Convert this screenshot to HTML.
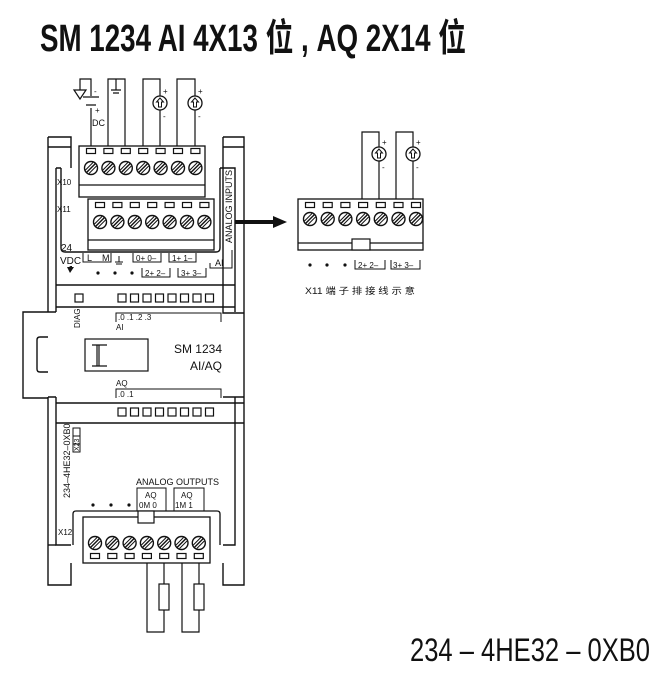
<!DOCTYPE html>
<html><head><meta charset="utf-8"><style>
html,body{margin:0;padding:0;background:#fff;}
svg{display:block;}
text{font-family:"Liberation Sans","Noto Sans CJK SC",sans-serif;fill:#111;}
</style></head><body>
<svg width="667" height="676" viewBox="0 0 667 676" xmlns="http://www.w3.org/2000/svg">
<defs>
<g id="scr"><circle r="6.5" fill="#fff" stroke="#111" stroke-width="1.4"/><line x1="-4.5" y1="4.5" x2="4.5" y2="-4.5" stroke="#111" stroke-width="1.4"/><line x1="-2" y1="5.5" x2="5.5" y2="-2" stroke="#111" stroke-width="1"/><line x1="-5.5" y1="2" x2="2" y2="-5.5" stroke="#111" stroke-width="1"/></g>
<rect id="tab" x="-4.5" y="-2.5" width="9" height="5" fill="#fff" stroke="#111" stroke-width="1.2"/>
<rect id="led" width="8" height="8" fill="#fff" stroke="#111" stroke-width="1.2"/>
<g id="src"><circle r="7" fill="#fff" stroke="#111" stroke-width="1.3"/><path d="M0,-5 L-3.5,-1 L-1.5,-1 L-1.5,4 L1.5,4 L1.5,-1 L3.5,-1 Z" fill="none" stroke="#111" stroke-width="1"/><text x="3" y="-9" font-size="8">+</text><text x="3" y="16" font-size="8">-</text></g>
</defs>

<text x="40" y="51" font-size="38" font-weight="bold" textLength="426" lengthAdjust="spacingAndGlyphs">SM 1234 AI 4X13 位 , AQ 2X14 位</text>
<text x="410" y="661" font-size="32" textLength="240" lengthAdjust="spacingAndGlyphs">234 – 4HE32 – 0XB0</text>

<g fill="none" stroke="#111" stroke-width="1.4">
<path d="M48,137 H71 V168"/>
<path d="M48,137 V312 M48,397 V585 H71 V563"/>
<path d="M48,147 H71"/>
<path d="M223,137 H244 V585 H223 V563"/>
<path d="M223,147 H244"/>
<path d="M223,137 V313 H244 M223,397 H244 M235,397 V545 H223"/>
<path d="M56,168 V312 M56,397 V545 H71"/>
<path d="M48,545 H56"/>
<path d="M61,168 V248 Q61,252 65,252 H216 Q220,252 220,248 V168"/>
<path d="M56,168 H61 M220,168 H235 V312"/>
<path d="M56,285 H235 M56,307 H235 M56,403 H244 M56,423 H244"/>
<path d="M48,312 H56 M48,397 H56"/>
<path d="M48,312 H23 V398 H48"/>
<path d="M48,337 H40 Q37,337 37,340 V369 Q37,372 40,372 H48"/>
</g>

<rect x="79" y="146" width="126" height="51" fill="#fff" stroke="#111" stroke-width="1.3"/>
<line x1="79" y1="185" x2="205" y2="185" stroke="#111" stroke-width="1.2"/>
<g id="row1">
<use href="#tab" x="91" y="151"/><use href="#tab" x="108.4" y="151"/><use href="#tab" x="125.8" y="151"/><use href="#tab" x="143.2" y="151"/><use href="#tab" x="160.6" y="151"/><use href="#tab" x="178" y="151"/><use href="#tab" x="195.4" y="151"/>
<use href="#scr" x="91" y="168"/><use href="#scr" x="108.4" y="168"/><use href="#scr" x="125.8" y="168"/><use href="#scr" x="143.2" y="168"/><use href="#scr" x="160.6" y="168"/><use href="#scr" x="178" y="168"/><use href="#scr" x="195.4" y="168"/>
</g>
<rect x="88" y="199" width="126" height="51" fill="#fff" stroke="#111" stroke-width="1.3"/>
<line x1="88" y1="240" x2="214" y2="240" stroke="#111" stroke-width="1.2"/>
<use href="#row1" x="9" y="54"/>

<g fill="none" stroke="#111" stroke-width="1.2">
<path d="M91,146 V108 M91,96 V79 H80 V90"/>
<path d="M83,97 H99 M86,105 H96" />
<path d="M108,146 V79 H125 V146"/>
<path d="M116,79 V90 M111,90 H121 M113,93 H119"/>
<path d="M143,146 V79 H160 V146"/>
<path d="M177,146 V79 H195 V146"/>
</g>
<path d="M74,90 H86 L80,99 Z" fill="#fff" stroke="#111" stroke-width="1.2"/>
<text x="94" y="94" font-size="8">-</text><text x="95" y="113" font-size="8">+</text>
<text x="92" y="126" font-size="9">DC</text>
<use href="#src" x="160" y="103"/><use href="#src" x="195" y="103"/>

<text x="57" y="185" font-size="8">X10</text>
<text x="57" y="212" font-size="8">X11</text>
<text transform="translate(232,243) rotate(-90)" font-size="9">ANALOG INPUTS</text>
<path d="M235,222 H276" stroke="#111" stroke-width="4"/>
<path d="M273,216 L287,222 L273,228 Z" fill="#111"/>

<text x="61" y="251" font-size="10">24</text>
<text x="60" y="264" font-size="10">VDC</text>
<path d="M67,267 H74 L70,273 Z M69,266 H72 V268" fill="#111"/>
<g fill="none" stroke="#111" stroke-width="1">
<path d="M83,253 V262 H111 V253"/>
<path d="M133,253 V262 H161 V253"/>
<path d="M169,253 V262 H196 V253"/>
<path d="M210,263 V268 H232 V250"/>
<path d="M142,268 V277 H170 V268"/>
<path d="M178,268 V277 H206 V268"/>
<path d="M119,256 V262 M115,262 H123 M116,264 H122"/>
</g>
<text x="87" y="261" font-size="9">L</text><text x="102" y="261" font-size="9">M</text>
<text x="136" y="261" font-size="8">0+  0–</text><text x="172" y="261" font-size="8">1+  1–</text>
<text x="215" y="266" font-size="9">AI</text>
<text x="145" y="276" font-size="8">2+  2–</text><text x="181" y="276" font-size="8">3+  3–</text>
<circle cx="98" cy="273" r="1.6" fill="#111"/><circle cx="115" cy="273" r="1.6" fill="#111"/><circle cx="132" cy="273" r="1.6" fill="#111"/>

<use href="#led" x="75" y="294"/>
<use href="#led" x="118" y="294"/><use href="#led" x="130.5" y="294"/><use href="#led" x="143" y="294"/><use href="#led" x="155.5" y="294"/><use href="#led" x="168" y="294"/><use href="#led" x="180.5" y="294"/><use href="#led" x="193" y="294"/><use href="#led" x="205.5" y="294"/>

<text transform="translate(80,328) rotate(-90)" font-size="8">DIAG</text>
<path d="M116,322 V313 H221 V322" fill="none" stroke="#111" stroke-width="1"/>
<text x="118" y="320" font-size="8">.0  .1  .2  .3</text>
<text x="116" y="330" font-size="8">AI</text>

<rect x="85" y="339" width="63" height="32" fill="#fff" stroke="#111" stroke-width="1.2"/>
<path d="M92,345 H107 M92,366 H107 M99,345 V366 M97,345 V366" stroke="#111" stroke-width="1.2" fill="none"/>
<text x="222" y="353" font-size="12" text-anchor="end">SM 1234</text>
<text x="222" y="370" font-size="12" text-anchor="end">AI/AQ</text>

<text x="116" y="386" font-size="8">AQ</text>
<path d="M116,398 V389 H221 V398" fill="none" stroke="#111" stroke-width="1"/>
<text x="118" y="397" font-size="8">.0  .1</text>

<use href="#led" x="118" y="408"/><use href="#led" x="130.5" y="408"/><use href="#led" x="143" y="408"/><use href="#led" x="155.5" y="408"/><use href="#led" x="168" y="408"/><use href="#led" x="180.5" y="408"/><use href="#led" x="193" y="408"/><use href="#led" x="205.5" y="408"/>

<text transform="translate(70,498) rotate(-90)" font-size="9">234–4HE32–0XB0</text>
<rect x="73" y="428" width="7" height="24" fill="none" stroke="#111" stroke-width="1"/>
<path d="M73,436 H80 M73,444 H80" stroke="#111" stroke-width="1"/>
<text transform="translate(79,451) rotate(-90)" font-size="7">X23</text>

<text x="136" y="485" font-size="9">ANALOG OUTPUTS</text>
<path d="M137,511 V488 H166 V511 M174,511 V488 H204 V511" fill="none" stroke="#111" stroke-width="1"/>
<text x="145" y="498" font-size="8">AQ</text><text x="139" y="508" font-size="8">0M  0</text>
<text x="181" y="498" font-size="8">AQ</text><text x="175" y="508" font-size="8">1M  1</text>
<circle cx="93" cy="505" r="1.6" fill="#111"/><circle cx="111" cy="505" r="1.6" fill="#111"/><circle cx="129" cy="505" r="1.6" fill="#111"/>

<path d="M73,545 V514 Q73,511 76,511 H217 Q220,511 220,514 V545" fill="none" stroke="#111" stroke-width="1.3"/>
<rect x="83" y="517" width="127" height="46" fill="#fff" stroke="#111" stroke-width="1.3"/>
<rect x="138" y="511" width="16" height="12" fill="#fff" stroke="#111" stroke-width="1.2"/>
<text x="58" y="535" font-size="8">X12</text>
<use href="#scr" x="95" y="543"/><use href="#scr" x="112.3" y="543"/><use href="#scr" x="129.6" y="543"/><use href="#scr" x="146.9" y="543"/><use href="#scr" x="164.2" y="543"/><use href="#scr" x="181.5" y="543"/><use href="#scr" x="198.8" y="543"/>
<use href="#tab" x="95" y="556"/><use href="#tab" x="112.3" y="556"/><use href="#tab" x="129.6" y="556"/><use href="#tab" x="146.9" y="556"/><use href="#tab" x="164.2" y="556"/><use href="#tab" x="181.5" y="556"/><use href="#tab" x="198.8" y="556"/>
<path d="M147,563 V632 H164 V563 M182,563 V632 H199 V563" fill="none" stroke="#111" stroke-width="1.2"/>
<rect x="159" y="584" width="10" height="26" fill="#fff" stroke="#111" stroke-width="1.2"/>
<rect x="194" y="584" width="10" height="26" fill="#fff" stroke="#111" stroke-width="1.2"/>

<rect x="298" y="199" width="125" height="51" fill="#fff" stroke="#111" stroke-width="1.3"/>
<line x1="298" y1="243" x2="423" y2="243" stroke="#111" stroke-width="1.2"/>
<rect x="352" y="239" width="18" height="11" fill="#fff" stroke="#111" stroke-width="1.2"/>
<use href="#tab" x="310" y="205"/><use href="#tab" x="327.7" y="205"/><use href="#tab" x="345.4" y="205"/><use href="#tab" x="363.1" y="205"/><use href="#tab" x="380.8" y="205"/><use href="#tab" x="398.5" y="205"/><use href="#tab" x="416" y="205"/>
<use href="#scr" x="310" y="219"/><use href="#scr" x="327.7" y="219"/><use href="#scr" x="345.4" y="219"/><use href="#scr" x="363.1" y="219"/><use href="#scr" x="380.8" y="219"/><use href="#scr" x="398.5" y="219"/><use href="#scr" x="416" y="219"/>
<path d="M362,199 V132 H379 V199 M396,199 V132 H413 V199" fill="none" stroke="#111" stroke-width="1.2"/>
<use href="#src" x="379" y="154"/><use href="#src" x="413" y="154"/>
<circle cx="310" cy="265" r="1.6" fill="#111"/><circle cx="327" cy="265" r="1.6" fill="#111"/><circle cx="345" cy="265" r="1.6" fill="#111"/>
<path d="M355,260 V269 H385 V260 M391,260 V269 H420 V260" fill="none" stroke="#111" stroke-width="1"/>
<text x="358" y="268" font-size="8">2+  2–</text><text x="393" y="268" font-size="8">3+  3–</text>
<text x="305" y="294" font-size="9" textLength="110" lengthAdjust="spacingAndGlyphs">X11 端 子 排 接 线 示 意</text>
</svg>
</body></html>
